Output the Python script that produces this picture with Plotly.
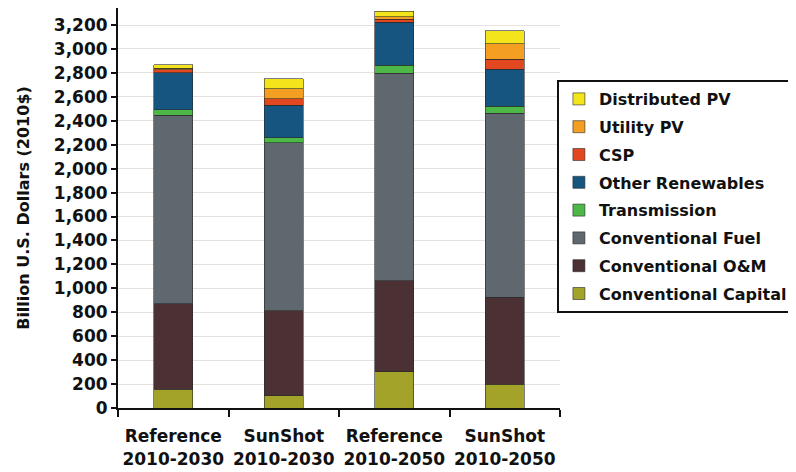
import plotly.graph_objects as go

categories = ["Reference<br>2010-2030", "SunShot<br>2010-2030", "Reference<br>2010-2050", "SunShot<br>2010-2050"]

conventional_capital = [156, 103, 303, 198]
conventional_om = [713, 710, 760, 727]
conventional_fuel = [1579, 1404, 1733, 1537]
transmission = [42, 41, 67, 61]
other_renewables = [311, 271, 359, 307]
csp = [25, 55, 28, 83]
utility_pv = [13, 84, 20, 131]
distributed_pv = [28, 83, 46, 109]

series = [
    ("Conventional Capital", conventional_capital, "#a3a229"),
    ("Conventional O&M", conventional_om, "#4b3034"),
    ("Conventional Fuel", conventional_fuel, "#5f686e"),
    ("Transmission", transmission, "#4db848"),
    ("Other Renewables", other_renewables, "#16557f"),
    ("CSP", csp, "#e2481f"),
    ("Utility PV", utility_pv, "#f49f22"),
    ("Distributed PV", distributed_pv, "#f4e41c"),
]

FONT = "DejaVu Sans"

fig = go.Figure()
n = len(series)
for i, (name, vals, color) in enumerate(series):
    fig.add_trace(go.Bar(
        x=categories, y=vals, name=name, legendgroup=name,
        legendrank=n - i,
        marker=dict(color=color, line=dict(color="#2a2a2a", width=0.6)),
    ))

fig.update_layout(
    barmode="stack",
    bargap=0.65,
    width=788, height=464,
    margin=dict(l=110, r=236, t=0, b=64),
    paper_bgcolor="white",
    plot_bgcolor="white",
    font=dict(family=FONT, size=16, color="#111111", weight="bold"),
    legend=dict(
        x=0.993, xanchor="left", y=0.82, yanchor="top",
        traceorder="grouped", tracegroupgap=4,
        entrywidth=195, entrywidthmode="pixels",
        bordercolor="#111111", borderwidth=2,
        font=dict(family=FONT, size=16, color="#111111", weight="bold"),
        bgcolor="white",
    ),
    xaxis=dict(
        showline=True, linecolor="#111111", linewidth=2,
        ticks="outside", tickson="boundaries", ticklen=7, tickwidth=2, tickcolor="#111111",
        showgrid=False, ticklabelstandoff=12, tickangle=0, automargin=False,
        tickfont=dict(family=FONT, size=17, color="#111111", weight="bold"),
    ),
    yaxis=dict(
        range=[0, 3342], dtick=200, tickformat=",d",
        showline=True, linecolor="#111111", linewidth=2,
        ticks="outside", ticklen=5, tickwidth=2, tickcolor="#111111",
        showgrid=True, gridcolor="#e7e1dd", gridwidth=1,
        zeroline=False, automargin=False,
        tickfont=dict(family=FONT, size=17, color="#111111", weight="bold"),
        title=dict(text="Billion U.S. Dollars (2010$)", standoff=20,
                   font=dict(family=FONT, size=16, color="#111111", weight="bold")),
    ),
)

fig.write_html("out.html")
